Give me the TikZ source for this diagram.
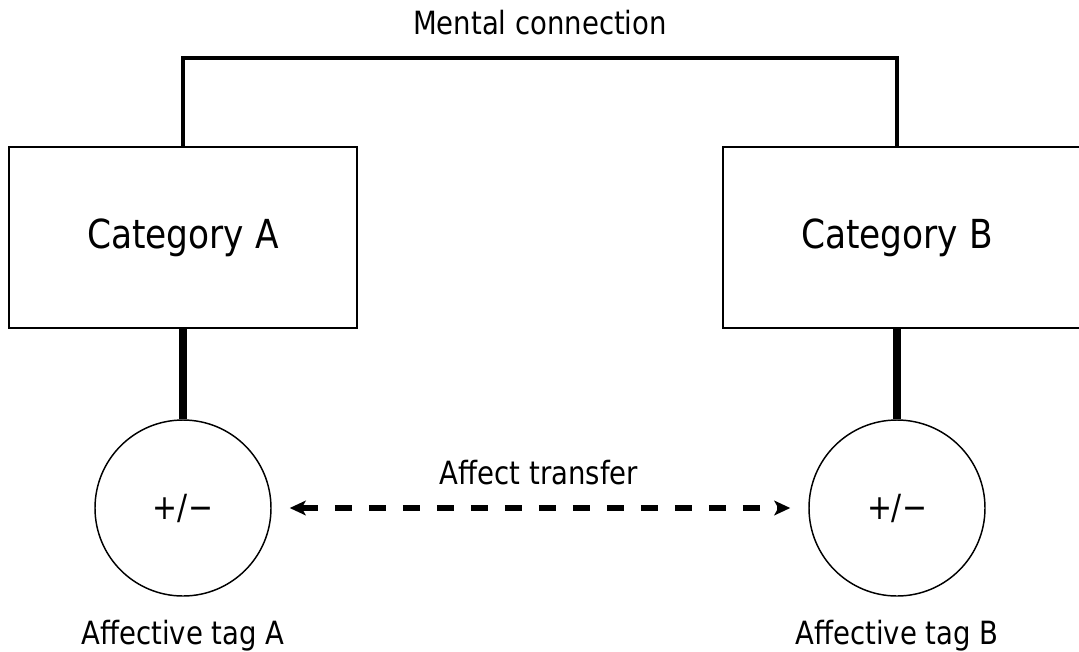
\documentclass[tikz,border=0pt]{standalone}
\usepackage{fontspec}
\setmainfont{DejaVu Sans}[FakeStretch=0.86]
\usetikzlibrary{arrows.meta,positioning}

\tikzset{
	catbox/.style={draw, line width=1.5pt, minimum width=261pt, minimum height=135.75pt, font=\fontsize{30}{34}\selectfont},
	cattext/.style={font=\fontsize{30}{34}\selectfont},
	tagcircle/.style={draw, circle, line width=1.1pt, minimum size=132pt, inner sep=0pt, font=\fontsize{26}{30}\selectfont},
	lbl/.style={font=\fontsize{24}{28}\selectfont},
	link/.style={line width=5.6pt},
	mental/.style={line width=3pt},
	transfer/.style={line width=3.8pt, dash pattern=on 12.75pt off 12.75pt,
		{Stealth[length=12pt,width=11pt,inset=3pt]}-{Stealth[length=12pt,width=11pt,inset=3pt]},
		shorten <=13.5pt, shorten >=13.5pt}
}

\begin{document}
\begin{tikzpicture}[x=0.75pt,y=-0.75pt]
\useasboundingbox (0,0) rectangle (1079,651);
\clip (0,0) rectangle (1079,651);

% categories
\node[catbox] (catA) at (183,237.5) {Category A};
\node[catbox, minimum width=274.5pt] (catB) at (906,237.5) {};
\node[cattext] (catBtext) at (897,237.5) {Category B};

% affective tags
\node[tagcircle] (tagA) at (183,508) {+/−};
\node[tagcircle] (tagB) at (897,508) {+/−};
\node[lbl] (tagAtext) at (183,636) {Affective tag A};
\node[lbl] (tagBtext) at (897,636) {Affective tag B};

% mental connection
\coordinate (top) at (540,58);
\draw[mental] (catA.north) |- (catBtext |- top) -- (catBtext |- catB.north);
\node[lbl] (mentaltext) at (540,23) {Mental connection};

% tag links
\draw[link] (catA) -- (tagA);
\draw[link] (catBtext |- catB.south) -- (tagB.north);

% affect transfer
\draw[transfer] (tagA) -- (tagB);
\node[lbl] (transfertext) at (539,473) {Affect transfer};

\end{tikzpicture}
\end{document}
